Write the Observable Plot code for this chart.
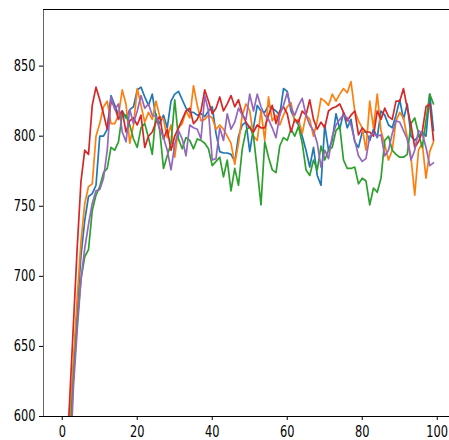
<!DOCTYPE html>
<html>
<head>
<meta charset="utf-8">
<script src="https://cdn.jsdelivr.net/npm/d3@7"></script>
<script src="https://cdn.jsdelivr.net/npm/@observablehq/plot@0.6"></script>
<style>
  html, body { margin: 0; padding: 0; background: #fff; }
  #chart svg { display: block; }
</style>
</head>
<body>
<div id="chart"></div>
<script>
const xTicks = [0, 20, 40, 60, 80, 100];
const yTicks = [600, 650, 700, 750, 800, 850];
const seriesNames = ["blue", "orange", "green", "red", "purple"];
const seriesColors = ["#1f77b4", "#ff7f0e", "#2ca02c", "#d62728", "#9467bd"];

const blue = [440,510,590,635,678,715,740,757,759,765,
  800,800,805,829,822,815,818,813,819,821,
  833,835,828,822,830,813,809,815,806,825,
  830,832,826,820,817,817,815,816,814,818,
  821,802,789,788,788,787,782,800,808,810,
  789,806,822,818,817,822,820,818,815,834,
  832,818,812,808,800,790,778,792,772,765,
  808,790,797,816,805,817,806,812,796,792,
  803,803,797,805,799,818,815,808,806,815,
  826,812,823,800,797,800,803,800,830,804];
const orange = [430,500,595,640,685,725,752,764,766,800,
  809,821,825,809,809,815,833,823,795,808,
  834,822,810,817,812,825,814,812,799,808,
  785,806,809,818,813,836,822,811,812,815,
  813,805,808,805,800,795,780,795,815,823,
  818,800,797,818,797,828,811,815,808,815,
  821,824,810,812,802,815,812,800,811,827,
  825,822,830,825,830,834,831,839,818,811,
  806,790,825,806,830,804,794,783,790,811,
  817,813,799,785,758,790,795,770,789,796];
const green = [420,490,580,628,668,698,714,719,747,758,
  764,774,777,792,790,796,816,815,808,798,
  792,806,809,799,787,816,804,777,786,795,
  826,798,791,799,797,791,798,797,795,791,
  779,782,785,771,783,761,777,765,791,804,
  807,800,776,751,796,785,776,774,793,799,
  797,805,800,807,795,776,772,783,776,793,
  783,790,792,804,807,783,777,777,778,766,
  770,768,751,763,760,770,797,800,790,787,
  785,785,787,809,813,802,792,811,830,823];
const red = [480,560,613,667,721,768,790,787,822,835,
  826,816,805,825,821,812,818,803,811,813,
  808,815,792,800,803,810,814,798,805,790,
  800,806,812,818,820,809,812,818,833,825,
  816,820,828,818,823,829,821,826,816,810,
  806,803,808,806,806,815,822,809,818,821,
  816,803,812,810,818,815,826,812,805,810,
  806,818,820,821,823,817,811,815,818,801,
  806,803,803,800,818,812,820,814,812,825,
  825,834,820,808,792,796,803,821,823,797];
const purple = [400,470,560,622,662,698,720,737,752,761,
  762,770,790,828,819,823,803,796,819,809,
  818,829,820,823,815,814,805,799,790,776,
  794,804,798,786,808,806,805,798,829,818,
  783,784,806,797,816,805,810,820,815,812,
  830,818,830,821,815,812,806,799,815,822,
  831,820,815,822,827,815,808,804,795,778,
  790,784,800,808,812,815,813,808,797,786,
  782,784,800,802,800,801,786,790,802,811,
  810,804,798,783,790,804,802,792,779,781];

const allSeries = [blue, orange, green, red, purple];
const xMin = -5, xMax = 103.27, yMin = 600, yMax = 890.4;

const lineMarks = allSeries.map((vals, i) =>
  Plot.line(vals.map((v, j) => ({step: j, value: v, name: seriesNames[i]})), {
    x: "step", y: "value", stroke: seriesColors[i], strokeWidth: 1.7, clip: true
  })
);

const chart = Plot.plot({
  width: 449,
  height: 440,
  marginLeft: 43,
  marginRight: 0,
  marginTop: 9,
  marginBottom: 24,
  style: {fontFamily: "DejaVu Sans", fontSize: "15px", color: "#000", background: "#fff"},
  x: {domain: [xMin, xMax], ticks: xTicks, tickSize: 4, tickPadding: 6, tickFormat: d => String(d), label: null},
  y: {domain: [yMin, yMax], ticks: yTicks, tickSize: 4, tickPadding: 4, tickFormat: d => String(d), label: null},
  marks: [
    ...lineMarks,
    Plot.ruleX([xMin], {stroke: "#666", strokeWidth: 1}),
    Plot.ruleY([yMin], {stroke: "#000", strokeWidth: 1}),
    Plot.ruleY([yMax], {stroke: "#000", strokeWidth: 1})
  ]
});
document.getElementById("chart").appendChild(chart);

// matplotlib-like horizontally condensed tick labels
const sx = 0.76;
chart.querySelectorAll("text").forEach(t => {
  const tr = t.getAttribute("transform") || "";
  const xa = t.getAttribute("x");
  if (xa !== null && /^-?[\d.]+$/.test(xa.trim())) t.setAttribute("x", String(+xa / sx));
  t.setAttribute("transform", `${tr} scale(${sx},1)`);
});
</script>
</body>
</html>
